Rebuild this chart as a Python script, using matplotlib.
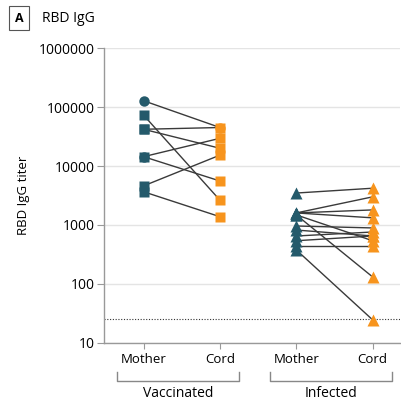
import matplotlib
matplotlib.use("Agg")
import matplotlib.pyplot as plt
import matplotlib.transforms as mtransforms

plt.rcParams['font.family'] = ['Open Sans', 'DejaVu Sans']

# vaccinated pairs: mother -> cord
vacc_mother = [128000, 73000, 42000, 42000, 14400, 14400, 4600, 3660]
vacc_cord = [45000, 2630, 45000, 20000, 29500, 5570, 15300, 1380]
vacc_mother_marker = ['o', 's', 's', 's', 'o', 's', 's', 's']
vacc_cord_marker = ['o', 's', 's', 's', 's', 's', 's', 's']

# infected pairs: mother -> cord
inf_mother = [3480, 1600, 1600, 1600, 1480, 1480, 960, 820, 650, 540, 440, 377]
inf_cord = [4200, 3000, 1800, 1320, 540, 131, 890, 650, 760, 650, 440, 24.5]

group_labels = ['Vaccinated', 'Infected']
x_labels = ['Mother', 'Cord', 'Mother', 'Cord']
ytick_vals = [10, 100, 1000, 10000, 100000, 1000000]
ytick_labels = ['10', '100', '1000', '10000', '100000', '1000000']
detection_limit = 25

teal = '#245a6b'
orange = '#f7941d'
line_col = '#3a3a3a'

fig = plt.figure(figsize=(4.01, 4.01), dpi=100)
ax = fig.add_axes([0.259, 0.145, 0.739, 0.735])

for m, c in zip(vacc_mother, vacc_cord):
    ax.plot([0, 1], [m, c], color=line_col, lw=1.0, zorder=2)
for m, c, mk1, mk2 in zip(vacc_mother, vacc_cord, vacc_mother_marker, vacc_cord_marker):
    ax.plot(0, m, marker=mk1, ms=7.5, color=teal, mec='none', zorder=3)
    ax.plot(1, c, marker=mk2, ms=7.5, color=orange, mec='none', zorder=3)

for m, c in zip(inf_mother, inf_cord):
    ax.plot([2, 3], [m, c], color=line_col, lw=1.0, zorder=2)
for m, c in zip(inf_mother, inf_cord):
    ax.plot(2, m, marker='^', ms=8, color=teal, mec='none', zorder=3)
    ax.plot(3, c, marker='^', ms=8, color=orange, mec='none', zorder=3)

ax.axhline(detection_limit, color='#333333', lw=0.8, ls=(0, (1, 1.5)), zorder=1)

ax.set_yscale('log')
ax.set_ylim(10, 1000000)
ax.set_xlim(-0.52, 3.36)
ax.set_yticks(ytick_vals)
ax.set_yticklabels(ytick_labels)
ax.minorticks_off()
ax.set_xticks([0, 1, 2, 3])
ax.set_xticklabels(x_labels)
ax.tick_params(axis='y', length=5, width=0.8, color='#999999', labelsize=10, pad=1.5)
ax.tick_params(axis='x', length=4, width=0.8, color='#999999', labelsize=9.5, pad=3)
ax.yaxis.grid(True, color='#e4e4e4', lw=1)
ax.set_axisbelow(True)
for s in ['top', 'right']:
    ax.spines[s].set_visible(False)
for s in ['left', 'bottom']:
    ax.spines[s].set_color('#999999')
    ax.spines[s].set_linewidth(1.0)

ax.set_ylabel('RBD IgG titer', fontsize=9.5, labelpad=6)

# group brackets
trans = mtransforms.blended_transform_factory(ax.transData, ax.transAxes)
for (x0, x1), lab in zip([(-0.35, 1.25), (1.66, 3.25)], group_labels):
    ax.plot([x0, x0, x1, x1], [-0.100, -0.128, -0.128, -0.100], color='#888888',
            lw=1.0, transform=trans, clip_on=False)
    ax.text((x0 + x1) / 2, -0.148, lab, transform=trans, ha='center', va='top', fontsize=10)

# panel title
fig.text(0.048, 0.955, 'A', fontsize=9, fontweight='bold', ha='center', va='center',
         bbox=dict(boxstyle='square,pad=0.45', fc='white', ec='#555555', lw=0.8))
fig.text(0.105, 0.955, 'RBD IgG', fontsize=10, ha='left', va='center')

fig.savefig('out.png', dpi=100)
